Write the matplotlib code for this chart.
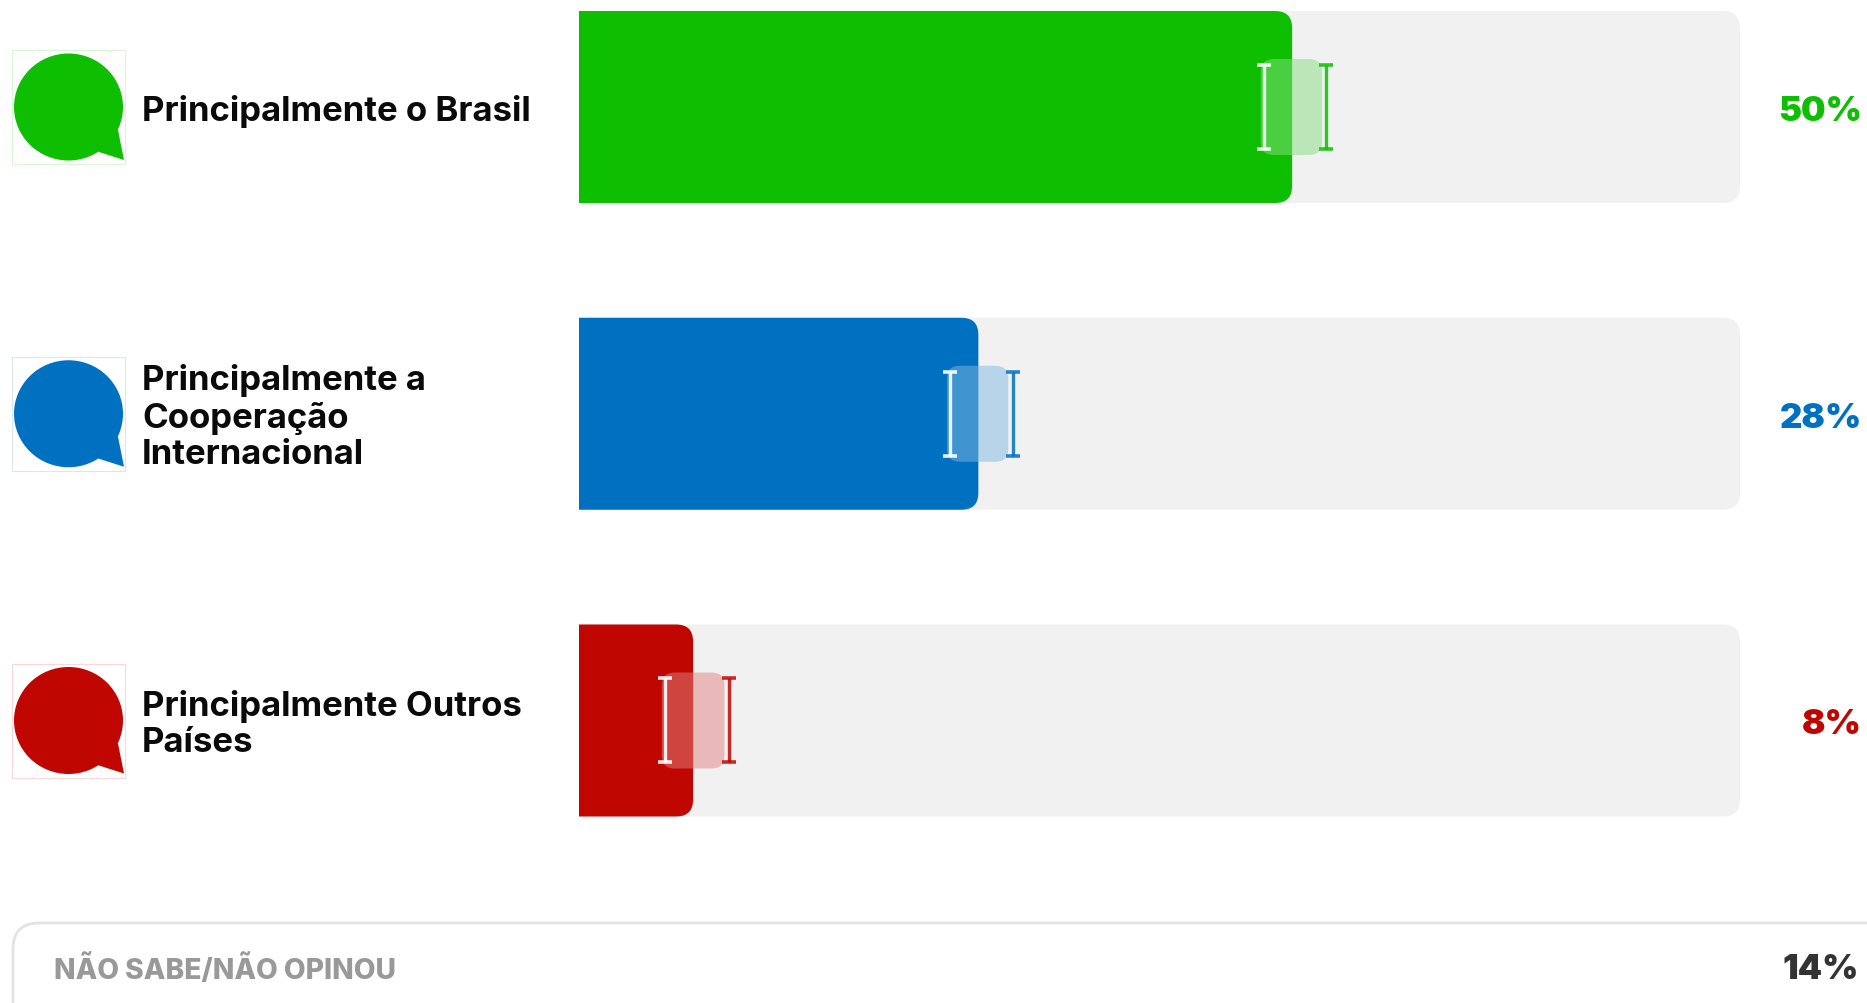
import matplotlib; matplotlib.use("Agg")
import matplotlib.pyplot as plt
from matplotlib.colors import to_rgb
from matplotlib.patches import FancyBboxPatch, Ellipse, Polygon, Rectangle

labels=["Principalmente o Brasil","Principalmente a\nCooperação\nInternacional","Principalmente Outros\nPaíses"]
values=[50,28,8]
lows=[48.0,26.0,6.0]
highs=[52.4,30.4,10.5]
pct_labels=["50%","28%","8%"]
colors=["#0DBF00","#0071C1","#C00600"]
tints=["#D9F7D6","#D6E8F5","#F7D9D9"]
other_label="NÃO SABE/NÃO OPINOU"
other_pct="14%"

W,H=1867,1004
X0,X1=579,1740; PITCH=306.75; Y0=108
XMAX=81.4
BAR_H=192/PITCH
PXX=(X1-X0)/XMAX   # pixels per unit in x
FONT=["Inter","Noto Sans","DejaVu Sans"]

fig=plt.figure(figsize=(W/100,H/100),dpi=100,facecolor="white")
bg=fig.add_axes([0,0,1,1]); bg.set_xlim(0,W); bg.set_ylim(H,0); bg.axis("off")
ax=fig.add_axes([X0/W,0,(X1-X0)/W,1]); ax.set_xlim(0,XMAX); ax.set_ylim((H-Y0)/PITCH,-Y0/PITCH); ax.axis("off")
aspect=PXX/PITCH

def rbox(x0,x1,yc,h,r_px,**kw):
    r=r_px/PXX
    p=FancyBboxPatch((x0,yc-h/2),x1-x0,h,boxstyle=f"round,pad=0,rounding_size={r}",mutation_aspect=aspect,lw=0,**kw)
    ax.add_patch(p); return p

for i,(v,lo,hi,c,t) in enumerate(zip(values,lows,highs,colors,tints)):
    rbox(-3,XMAX,i,BAR_H,17,fc="#F1F1F1",zorder=1)
    rbox(-3,v,i,BAR_H,17,fc=c,zorder=2)
    # faixa da margem de erro
    soft=tuple(0.5*a+0.5 for a in to_rgb(c))
    rbox(lo-0.2,hi-0.3,i,96/PITCH,13,fc=soft,alpha=0.5,zorder=3)
    ax.errorbar(lo,i,yerr=42/PITCH,color="white",alpha=0.9,elinewidth=2.4,capsize=5,capthick=2.6,zorder=4)
    ax.errorbar(hi,i,yerr=42/PITCH,color=c,alpha=0.85,elinewidth=2.4,capsize=5,capthick=2.6,zorder=4)

    yc=Y0+i*PITCH
    bg.add_patch(Rectangle((12,yc-57),113,114,fc="none",ec=t,lw=0.8))
    bg.add_patch(Ellipse((68.5,yc),109,107,fc=c,lw=0))
    bg.add_patch(Polygon([(118,yc+23),(124,yc+53),(99,yc+45),(85,yc+30)],fc=c,lw=0))
    bg.text(142,yc+3,labels[i],fontsize=25,fontweight="bold",family=FONT,color="#0A0A0A",va="center",ha="left",linespacing=1.18)
    bg.text(1862,yc+4,pct_labels[i],fontsize=25,fontweight=900,family=FONT,color=c,va="center",ha="right")

bg.add_patch(FancyBboxPatch((13,924),W+60,200,boxstyle="round,pad=0,rounding_size=26",fc="white",ec="#E3E3E3",lw=2))
bg.text(54,970,other_label,fontsize=20.3,fontweight=800,family=FONT,color="#999999",va="center",ha="left")
bg.text(1859,970,other_pct,fontsize=25,fontweight=900,family=FONT,color="#333333",va="center",ha="right")

fig.savefig("out.png",dpi=100,facecolor="white")
